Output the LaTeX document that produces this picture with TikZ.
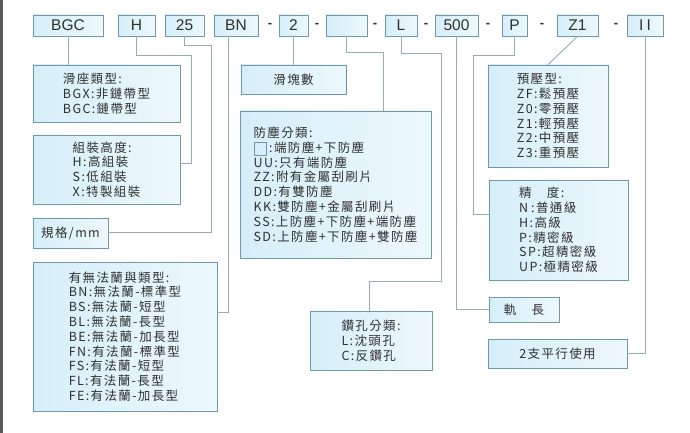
\documentclass[tikz,border=0pt]{standalone}
\usepackage{fontspec}
\setmainfont{Liberation Sans}
\newfontfamily\cjk[LetterSpace=11]{Noto Sans CJK TC}
\newfontfamily\lab{Liberation Sans}
\definecolor{bd}{HTML}{6E9AA8}
\definecolor{ln}{HTML}{93AEB9}
\definecolor{fa}{HTML}{D6EEF9}
\definecolor{fb}{HTML}{EDF8FC}
\definecolor{tx}{HTML}{303030}
\newcommand\sqmark{\raisebox{-2.5pt}{\setlength\fboxsep{0pt}\setlength\fboxrule{0.8pt}\fcolorbox{bd}{fa}{\rule{0pt}{12pt}\hspace{12pt}}}\hspace{2pt}}
\tikzset{
  box/.style={draw=bd, line width=0.8pt, left color=fa, right color=fb,
    inner sep=0pt, text=tx, align=left,
    font=\cjk\fontsize{12.5}{14.8}\selectfont},
  codebox/.style={box, font=\lab\fontsize{15.5}{17}\selectfont},
  conn/.style={draw=ln, line width=0.9pt},
  sepmark/.style={text=tx, font=\lab\bfseries\fontsize{13}{14}\selectfont, inner sep=0pt}
}
\begin{document}
\begin{tikzpicture}[x=1pt,y=-1pt]
\useasboundingbox (0,0) rectangle (690,433);
\fill[white] (0,0) rectangle (690,433);
\fill[black!65] (0,0) rectangle (2.5,433);
% code boxes
\node[codebox, minimum width=70pt, minimum height=21pt] (bgc) at (68,25.5) {BGC};
\node[codebox, minimum width=37pt, minimum height=21pt] (h) at (136.5,25.5) {H};
\node[codebox, minimum width=39pt, minimum height=21pt] (n25) at (184.5,25.5) {25};
\node[codebox, minimum width=44pt, minimum height=21pt] (bn) at (236,25.5) {BN};
\node[codebox, minimum width=29pt, minimum height=21pt] (n2) at (293.5,25.5) {2};
\node[codebox, minimum width=41pt, minimum height=21pt] (blank) at (346.5,25.5) {};
\node[codebox, minimum width=32pt, minimum height=21pt] (l) at (401,25.5) {L};
\node[codebox, minimum width=43pt, minimum height=21pt] (n500) at (456.5,25.5) {500};
\node[codebox, minimum width=25pt, minimum height=21pt] (p) at (514.5,25.5) {P};
\node[codebox, minimum width=41pt, minimum height=21pt] (z1) at (577.5,25.5) {Z1};
\node[codebox, minimum width=36pt, minimum height=21pt] (ii) at (645,25.5) {I\hspace{3pt}I};
% separators
\foreach \x/\nm in {270/s1,317/s2,375/s3,426/s4,488/s5,542/s6,616/s7}
  \node[sepmark] (\nm) at (\x,25.5) {-};
% description boxes
\node[box, minimum width=147pt, minimum height=57pt] (slide) at (106.5,93.5)
  {滑座類型:\\BGX:非鏈帶型\\BGC:鏈帶型};
\node[box, minimum width=147pt, minimum height=69pt] (asm) at (106.5,169.5)
  {組裝高度:\\H:高組裝\\S:低組裝\\X:特製組裝};
\node[box, minimum width=75pt, minimum height=30pt] (spec) at (70.5,233)
  {規格/mm};
\node[box, minimum width=184pt, minimum height=149pt] (flange) at (125,336.5)
  {有無法蘭與類型:\\BN:無法蘭-標準型\\BS:無法蘭-短型\\BL:無法蘭-長型\\BE:無法蘭-加長型\\FN:有法蘭-標準型\\FS:有法蘭-短型\\FL:有法蘭-長型\\FE:有法蘭-加長型};
\node[box, minimum width=105pt, minimum height=29pt] (blocks) at (293.5,79.5)
  {滑塊數};
\node[box, minimum width=191pt, minimum height=147pt] (dust) at (335.5,184.5)
  {防塵分類:\\\sqmark:端防塵+下防塵\\UU:只有端防塵\\ZZ:附有金屬刮刷片\\DD:有雙防塵\\KK:雙防塵+金屬刮刷片\\SS:上防塵+下防塵+端防塵\\SD:上防塵+下防塵+雙防塵};
\node[box, minimum width=122pt, minimum height=59pt] (drill) at (371,340.5)
  {鑽孔分類:\\L:沈頭孔\\C:反鑽孔};
\node[box, minimum width=120pt, minimum height=102pt] (preload) at (548,116)
  {預壓型:\\ZF:鬆預壓\\Z0:零預壓\\Z1:輕預壓\\Z2:中預壓\\Z3:重預壓};
\node[box, minimum width=139pt, minimum height=100pt] (prec) at (558.5,230)
  {精　度:\\N\hspace{3pt}:普通級\\H:高級\\P:精密級\\SP:超精密級\\UP:極精密級};
\node[box, minimum width=70pt, minimum height=25pt] (rail) at (524,309.5)
  {軌　長};
\node[box, minimum width=139pt, minimum height=29pt] (par) at (557.5,353.5)
  {2支平行使用};
% connectors
\draw[conn] (bgc.south) -- (bgc.south |- slide.north);
\coordinate (hA) at (191,55);
\coordinate (hB) at (191,163);
\draw[conn] (h.south) |- (hA) -- (hB) -- (asm.east |- hB);
\coordinate (sA) at (211,45);
\coordinate (sB) at (211,232);
\draw[conn] (n25.south) |- (sA) -- (sB) -- (spec.east |- sB);
\coordinate (bA) at (228,312);
\draw[conn] (bn.south -| bA) -- (bA) -- (flange.east |- bA);
\draw[conn] (n2.south) -- (blocks.north);
\coordinate (dA) at (383,52);
\draw[conn] (blank.south) |- (dA) -- (dA |- dust.north);
\coordinate (lA) at (441,53);
\coordinate (lB) at (441,281);
\coordinate (lC) at (369,281);
\draw[conn] (l.south) |- (lA) -- (lB) -- (lC) -- (lC |- drill.north);
\draw[conn] (n500.south) |- (rail.west);
\coordinate (pA) at (473,55);
\coordinate (pB) at (473,214);
\draw[conn] (p.south) |- (pA) -- (pB) -- (prec.west |- pB);
\draw[conn] (z1.south) -- (preload.north);
\draw[conn] (ii.south) |- (par.east);
\end{tikzpicture}
\end{document}
